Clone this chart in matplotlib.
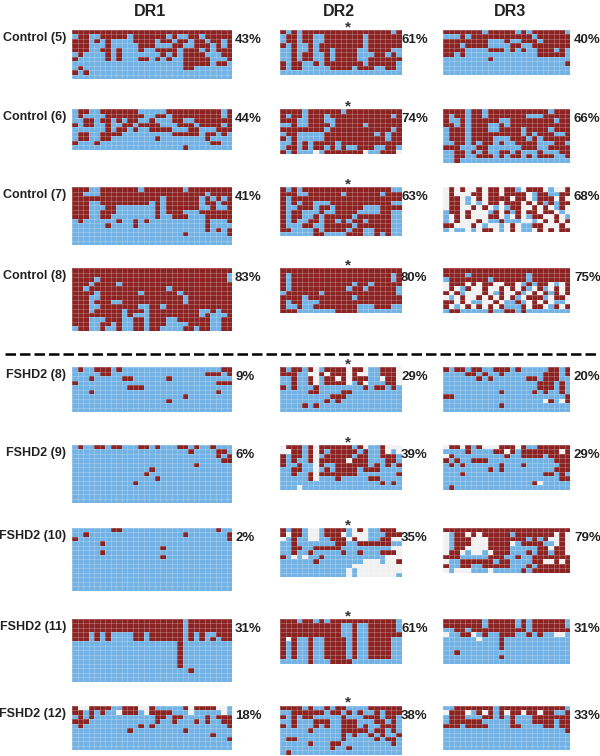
import numpy as np
import matplotlib
matplotlib.use('Agg')
import matplotlib.pyplot as plt
from matplotlib.colors import ListedColormap
from matplotlib.lines import Line2D

plt.rcParams['font.family'] = ['Liberation Sans', 'DejaVu Sans']

groups = ['Control (5)', 'Control (6)', 'Control (7)', 'Control (8)', 'FSHD2 (8)',
          'FSHD2 (9)', 'FSHD2 (10)', 'FSHD2 (11)', 'FSHD2 (12)']
regions = ['DR1', 'DR2', 'DR3']
pct_dr1 = ['43%', '44%', '41%', '83%', '9%', '6%', '2%', '31%', '18%']
pct_dr2 = ['61%', '74%', '63%', '80%', '29%', '39%', '35%', '61%', '38%']
pct_dr3 = ['40%', '66%', '68%', '75%', '20%', '29%', '79%', '31%', '33%']

# 1 = methylated, 0 = unmethylated, - = no data
dr1 = [
    ['11111111111111111111111111111', '01100111110111111010011011111', '11101010000111101101101101101',
     '11100010000011100011001110101', '11100110100010011110111010111', '01000010100000001010111100011',
     '10000010100011010100111110001', '00000000000000000000111110110', '01000000000000000000110000000',
     '10100000000000000000000000000', '0'],
    ['01100111111100000111111111101', '01000011111110011011111111101', '00110110101100100011001111111',
     '10110010011011110001110111101', '00000010110100111100011000111', '01100111100000000011111011010',
     '01100110000000010000000010000', '10001000000000000000000001100', '00000000000000000000100000000'],
    ['11100111111101111111011111111', '11000111111111111111111101111', '11111111111111110111111010101',
     '11100111111111010111111011011', '11100011000000010111111001001', '11100111000000010111000111111',
     '11100110000000010011100011111', '01000000100101000000000010001', '00000010000100000000000010000',
     '00000000000000000000000010101', '00000000000000000000100000001', '0', '0'],
    ['11111111111111111111111111111', '11111111111111111111111111110', '11110111111111111111111111110',
     '11101111011111111111111111111', '11011111111111111011111111111', '11110111111101111110111111111',
     '11100111111111111111011111111', '11101110011111111111011111111', '11100111111100110111111111111',
     '11101111101110111111111001011', '11111111101000111111111010001', '11100011100110111001111110011',
     '11100110100110111000011110011', '01100100100110110000110110011'],
    ['01001110100000000000000000011', '00000110000000000000000011101', '00010000011000000100000000000',
     '10000000000000000000000000111', '00000000001110000000000000000', '00010000000000000000000000100',
     '00000000000000000000100000000', '00000000000000000100000000000', '0', '0'],
    ['01001101100011010001101001000', '00000000000000000000010000110', '00000000000000000000000000101',
     '00000000000000000000000000011', '00000000000000000000001000000', '00000000000000100000000000000',
     '00000000000001000000000000000', '00000000000000010000000000000', '00000000000100000000000000000',
     '0', '0', '0', '0'],
    ['00000001100000000000000000100', '00100000000000000000100000001', '10000000000000000000000000001',
     '00000100000000000000000000000', '00000000000000001000000000000', '00000100000000000000000000000',
     '00000000000000001000000000000', '0', '0', '0', '0', '0', '0', '0'],
    ['11111111111111111111011111111', '11111111111111111111011111111', '11111111111111111111011111111',
     '11101010000110111111010100111', '11101010000110111111010101011', '00000000000000000001',
     '00000000000000000001', '00000000000000000001', '00000000000000000001', '00000000000000000001',
     '00000000000000000001', '000000000000000000000100', '0', '0'],
    ['1--111100111--1000001-1111--0', '11010100-1110-1111000-00000-0', '01010000000000011011000010111',
     '11100000000000010010001010011', '01000000000010100000000000001', '00000000001000000000100000000',
     '00000000000000000000000001000', '00000000000000000000000000001', '0', '0'],
]

dr2 = [
    ['1010111111111111111101', '0110110011111110111111', '0110110011111110111111', '1010010111111110111111',
     '0010010110111100111100', '0010110010111100011010', '0010110010111100111111', '1011001011111110111110',
     '1011000001111011100110', '0'],
    ['1111011111101111111111', '1011011101111111111101', '1110011100111111111111', '0010011110111110111111',
     '1111111101111111111101', '0110000011111111101011', '1010000011111111111011', '0010101111011111111111',
     '0110101101010011100110', '101000-01111111-00111-'],
    ['1010111111111111111100', '1110011111101111110111', '1011111111111111111111', '1010110001111111111100',
     '1001110110111110001111', '1011000100111100001100', '1011001011111011111100', '1010011011010110111100',
     '1000110011111011111100', '1100001011110110011100', '0000001100001110010100'],
    ['1111111111111111111111', '1011111111111111111101', '1011111111111111111101', '1011111111111011011111',
     '1011111111110110111110', '0111111011111111111110', '1111011111111011111111', '1011000111111111111111',
     '1001001111111100011100', '1110000000111100000000'],
    ['101101-01111-11-00111-', '11100--1-111-1--00111-', '001001-011-1-11100-11-', '001001-01111-01-00011-',
     '1010001000000001011010', '0000011000011000000000', '0000000001110000000000', '0000000010100000000000',
     '0000101000000000000000', '0'],
    ['-11101-11111101-001---', '--1101-101111101001-0-', '101101-011111011001110',
     '101001-11111-111000110', '100100-100111111010101', '001100-010111101110000', '001001-111111100000001',
     '000001-000100000110000', '0000000000000000001010', '000-'],
    ['10110--011110-1-00111-', '1-110--0111-0---000111', '-0100--00111-1--0011--', '0010000000110011111100',
     '00110011111000000000--', '001001000001001000111-', '10-0-00100000000000---',
     '000000100000000---0--1', '0000000000000---------', '000000000000-0--------', '000000000000-0-------0'],
    ['1110110101111111111110', '1111111111100100111110', '1111111111100100111110', '1111111111100100111111',
     '1-10010011110100111100', '1010010011110100111100', '1010010011110100111100', '1010010011110100111100',
     '1010010011110100111100', '0000010001111000000000'],
    ['1111010010110000111111', '0011111101101010010111', '1010110000010001110110', '0010001110011100011010',
     '1010001010011101001110', '0000010000011111011010', '0000000000010100101001', '0110000000010000010110',
     '0000010001100000000010', '0000000001001000000000', '0100000000000000000000'],
]

dr3 = [
    ['11111110111110101111110', '00010111111111110111111', '11111111000100111011111', '11101111000011001111111',
     '11110000111010100111010', '11010000000000000111110', '00000000100000000000000', '00000000000000000000001',
     '0', '0'],
    ['11110110111111111110111', '10110110111111100011111', '10010111110011111111011', '11010111001011111111111',
     '01110111001111011110111', '01110111111111010111001', '01110111100011101011111', '00110101101001111000110',
     '11100011000000111001111', '00110101001101000100011', '00110011101011010111001', '00100000000000000000000'],
    ['-1-1--1-11-110-111-0--1', '-1---11-11-1111-0110011', '-11-0-1-1111-11-0111-1-', '-11-0-0-11-111-1-101011',
     '-11--1-1-0-011--1-1-01-', '011-1---01-101-11-11-0-', '0-1-1---11-0-1-011--1-0', '0-1---1-001000--0-1-1-1',
     '11---1-0--0-1-0011---1-', '0-00-0-11-0-1-00-1-1-11'],
    ['11111111111111111111111', '11110111111111101111111', '01111111011111101111111', '-111-1-11--11-01011-0-1',
     '-1-01--1--1-1-10-10-1-1', '1-10---1-01--10-1-101-1', '-0-1--1-1-1-10-1110-11-', '11-1-00--1-0010-1-1-00-',
     '1-0-1-1-1-10001-11-01-1', '01100000100110100000000'],
    ['10110110011101000001101', '00001101001000000011101', '00000010100000011011100', '00000000000000000111010',
     '00000000000000000111010', '00000000001000001010010', '11000000000000000000001', '000000000000000000-10-1',
     '00000000001000000000000', '0'],
    ['-11-101---111-100111111', '00001000011-101111111-1', '-1000000000100111101111', '10100111000000000000111',
     '01010000001000100000011', '00000000101000000000111', '00010000000000000011010', '00000000000000000000011',
     '00000000000000001-00000', '01'],
    ['11111111111111111111111', '-011-1-1111101111111-1-', '-0111---11111110101--1-', '-0111---1111-0111100-1-',
     '-011----11110000011-11-', '-11-0--0-1110001011011-', '11100000111001001111111', '-00111111011000011--1-1',
     '10011001111100010111111', '-0---000-00000101111111'],
    ['11111110111110101111110', '11111110111110101111110', '00110111111111101111111', '-0011-01001110010100--0',
     '000000-00010000000000', '00000000001', '00000000001', '00100000000', '00000000001', '0'],
    ['00111111101111111111110', '-111-01-101-11-11-11001', '01110001101010001111111', '01111110000010001111011',
     '11101111000011000011011', '00000000000000000000001', '0', '0', '0', '0'],
]

panels = [dr1, dr2, dr3]
percents = [pct_dr1, pct_dr2, pct_dr3]
stars = [False, True, False]

W, H = 600.0, 756.0
row_top = [30, 109.3, 187.3, 268.3, 367.3, 445, 528, 619, 705.7]
col_left = [72, 280, 443.3]
col_n = [29, 22, 23]
pct_x = [235, 401, 574]
title_x = [150, 339, 510]
cell_w, cell_h = 5.53, 4.47

cmap = ListedColormap(['#72B2E4', '#8C2323', '#F1F1F1'])
code = {'0': 0, '1': 1, '-': 2}

fig = plt.figure(figsize=(6, 7.56), dpi=100)

for c in range(3):
    fig.text(title_x[c] / W, 1 - 11.5 / H, regions[c], fontsize=11.5, fontweight='bold',
             ha='center', va='center', color='#222222')
    for r in range(9):
        rows = panels[c][r]
        n = col_n[c]
        grid = np.array([[code[ch] for ch in s.ljust(n, '0')[:n]] for s in rows])
        h = len(rows) * cell_h
        w = n * cell_w
        ax = fig.add_axes([col_left[c] / W, 1 - (row_top[r] + h) / H, w / W, h / H])
        ax.pcolormesh(grid, cmap=cmap, vmin=0, vmax=2)
        # faint cell borders, the strong ones swamp the colours at this size
        ax.hlines(np.arange(len(rows) + 1), 0, n, color='white', alpha=0.3, linewidth=0.5)
        ax.vlines(np.arange(n + 1), 0, len(rows), color='white', alpha=0.3, linewidth=0.5)
        ax.set_xlim(0, n)
        ax.set_ylim(len(rows), 0)
        ax.axis('off')
        fig.text(pct_x[c] / W, 1 - (row_top[r] + 10) / H, percents[c][r], fontsize=9.5,
                 fontweight='bold', ha='left', va='center', color='#222222')
        if stars[c]:
            fig.text(348 / W, 1 - (row_top[r] - 3) / H, '*', fontsize=11, fontweight='bold',
                     ha='center', va='center', color='#333333')

for r in range(9):
    fig.text(66 / W, 1 - (row_top[r] + 8) / H, groups[r], fontsize=9, fontweight='bold',
             ha='right', va='center', color='#222222')

# dashed line between controls and patients
fig.add_artist(Line2D([5 / W, 598 / W], [1 - 353.5 / H, 1 - 353.5 / H], color='black',
                      linewidth=1.8, linestyle=(0, (4.2, 1.6))))

fig.savefig('out.png', dpi=100)
